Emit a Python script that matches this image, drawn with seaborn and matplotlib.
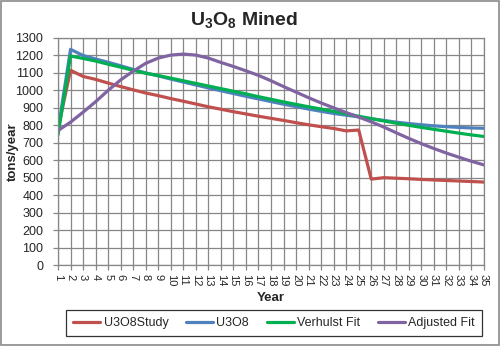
import matplotlib
matplotlib.use("Agg")
import matplotlib.pyplot as plt
import pandas as pd
import seaborn as sns
from matplotlib.patches import Rectangle

# ---- data -------------------------------------------------------------
years = list(range(1, 36))
u3o8_study = [780, 1115, 1080, 1063, 1042, 1022, 1003, 985, 970, 953,
              938, 922, 906, 892, 878, 865, 852, 840, 828, 815,
              803, 792, 782, 768, 773, 492, 500, 497, 494, 490,
              487, 484, 481, 478, 475]
u3o8 = [770, 1235, 1200, 1180, 1161, 1141, 1120, 1100, 1083, 1065,
        1048, 1031, 1014, 998, 982, 966, 951, 936, 921, 907,
        893, 880, 868, 858, 848, 838, 828, 818, 810, 803,
        797, 792, 788, 785, 783]
verhulst_fit = [745, 1197, 1183, 1168, 1150, 1133, 1115, 1098, 1085, 1070,
                1055, 1040, 1025, 1010, 995, 980, 964, 949, 934, 920,
                906, 893, 880, 866, 852, 838, 825, 812, 800, 788,
                777, 766, 755, 745, 736]
adjusted_fit = [770, 818, 875, 935, 1000, 1060, 1110, 1155, 1185, 1202,
                1208, 1202, 1185, 1160, 1137, 1112, 1086, 1055, 1022, 990,
                958, 928, 900, 873, 847, 820, 790, 757, 725, 695,
                667, 641, 617, 594, 573]
series_names = ["U3O8Study", "U3O8", "Verhulst Fit", "Adjusted Fit"]
series_colors = ["#C0504D", "#4F81BD", "#00B050", "#8064A2"]
y_ticks = list(range(0, 1301, 100))

df = pd.concat(
    [pd.DataFrame({"Year": years, "tons": vals, "series": name})
     for name, vals in zip(series_names,
                           [u3o8_study, u3o8, verhulst_fit, adjusted_fit])],
    ignore_index=True,
)

# ---- style --------------------------------------------------------------
sns.set_theme(style="white")
plt.rcParams["font.family"] = ["Liberation Sans", "DejaVu Sans"]
plt.rcParams["mathtext.fontset"] = "custom"
plt.rcParams["mathtext.bf"] = "Liberation Sans:bold"
plt.rcParams["mathtext.rm"] = "Liberation Sans"

fig = plt.figure(figsize=(5.0, 3.46), dpi=100)
ax = fig.add_axes([58 / 500, 1 - 265 / 346, 426 / 500, 227 / 346])

grid_c = "#878787"
sns.lineplot(data=df, x="Year", y="tons", hue="series",
             hue_order=series_names, palette=series_colors,
             linewidth=2.3, sort=False, ax=ax, legend=False)

ax.set_xlim(1, 35)
ax.set_ylim(0, 1300)
ax.set_xticks(years)
ax.set_xticklabels([str(y) for y in years], rotation=270, fontsize=8)
ax.set_yticks(y_ticks)
ax.set_yticklabels([str(v) for v in y_ticks], fontsize=9)
ax.grid(True, color=grid_c, linewidth=0.9)
ax.set_axisbelow(True)
for s in ax.spines.values():
    s.set_color(grid_c)
    s.set_linewidth(0.9)
ax.tick_params(axis="both", which="both", length=3.5, width=0.9,
               color=grid_c, direction="out", left=True, bottom=True)
ax.tick_params(axis="y", pad=7)
ax.tick_params(axis="x", pad=3)

ax.set_xlabel("Year", fontsize=9.5, fontweight="bold")
ax.xaxis.set_label_coords(0.5, -0.145)
ax.xaxis.label.set_verticalalignment("center")
ax.set_ylabel("tons/year", fontsize=9.5, fontweight="bold")
ax.yaxis.set_label_coords(-0.107, 0.5)
ax.yaxis.label.set_verticalalignment("center")

fig.text(0.488, 0.942, r"U$\mathbf{_3}$O$\mathbf{_8}$ Mined",
         fontsize=14, fontweight="bold", ha="center", va="center")

handles = [plt.Line2D([], [], color=c, linewidth=2.3) for c in series_colors]
leg = fig.legend(handles, series_names, loc="center",
                 bbox_to_anchor=(0.548, 0.0665), ncol=4, fontsize=9,
                 frameon=True, fancybox=False, handlelength=2.2,
                 handletextpad=0.25, columnspacing=1.4, borderpad=0.55)
leg.get_frame().set_edgecolor("black")
leg.get_frame().set_linewidth(0.9)

fig.patches.append(Rectangle((0.002, 0.003), 0.995, 0.993,
                             transform=fig.transFigure, fill=False,
                             edgecolor="#8a8a8a", linewidth=1.2))

fig.savefig("out.png", dpi=100)
